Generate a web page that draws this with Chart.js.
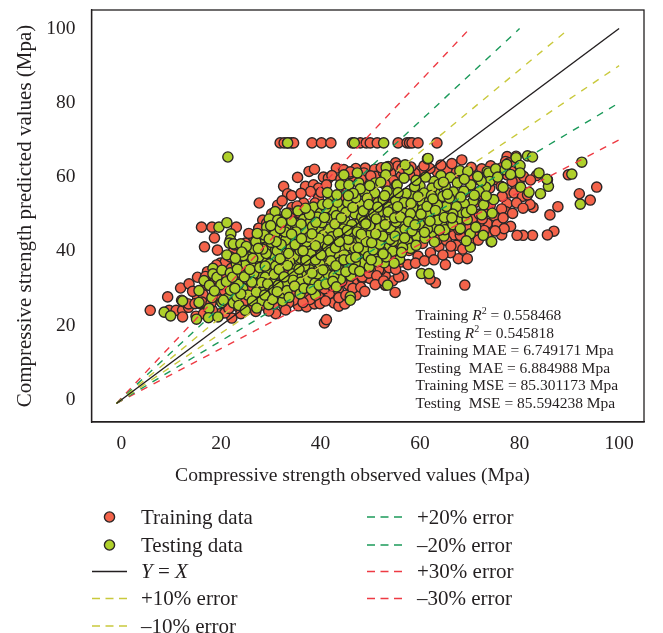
<!DOCTYPE html>
<html>
<head>
<meta charset="utf-8">
<title>Compressive strength</title>
<script src="https://cdn.jsdelivr.net/npm/chart.js@4"></script>
<style>
    html, body { margin: 0; padding: 0; background: #fff; }
    canvas { display: block; }
</style>
</head>
<body>
<canvas id="chart" width="663" height="633"></canvas>
<script>
const trainingPoints = [
    [31.9,69.2],[32.7,69.2],[33.4,69.2],[34.1,69.2],[34.6,69.2],[38.3,69.2],[40.2,69.2],[42.1,69.2],[46.4,69.2],[48,69.2],[49.2,69.2],[50,69.2],[51.4,69.2],[55.6,69.2],[57.4,69.2],[57.9,69.2],[58.4,69.2],[59.6,69.2],[63.4,69.2],
    [68.4,64.6],[77.5,65.5],[77.2,64.2],[77.9,63.8],[78.9,62.9],[79.3,65.6],[83.4,60.4],[89.8,60.6],[95.5,57.3],[92,55.5],[94.2,53.8],[87.7,52],[86.1,49.8],[82.7,51.8],[82.1,52.6],[85.6,59.3],[86.9,45.4],[85.6,44.4],[78.2,46.7],[82.6,44.3],[80.7,44.3],[79.5,44.3],[76.4,44.4],[74.3,42.6],
    [69,30.9],[63.1,31.5],[62,32.5],[56.6,33.4],[54.5,32],[53,30.9],[55,28.9],[52.2,35.1],[53,33.4],[65.1,36.4],[67.7,38],[69.5,38],[66.1,39.6],[62.1,39.6],[63.8,41.3],[67.3,41.6],
    [77.5,52.8],[77.2,50.7],[76.4,51.4],[73.5,47.5],[71.8,47.1],[66.8,44.4],[68.1,44.3],[70.8,44.4],[79.2,58],[77.9,55.7],[78.9,55.7],[80.6,54.8],[81.6,55.2],[76.5,54.8],[79.9,58.8],[78.5,58.8],
    [5.8,24.1],[9.3,27.7],[11.9,30.1],[13.6,31.2],[15.3,33],[16.7,41.2],[19.3,40.3],[18.7,43.6],[16.1,46.5],[18.2,46.5],[23.1,46.5],[27.7,53],
    [40.8,20.7],[41.2,21.6],[31,23.2],[35.6,25.3],[37.2,25],[38.8,25.8],[35.8,27.5],[37.4,28.2],[41.8,28.6],[43.6,29.5],[42.7,26.1],[43.7,25.2],[44.9,25.8],[43.7,27.5],[45.1,28.2],[47.2,28.2],[47.4,31.3],[48.4,32.7],[49.9,32.7],[52.1,35],[53.1,30.9],[33.3,27.7],[34.6,26.8],[26.7,25.9],[28.6,25.5],[32.6,25.5],
    [9.6,24.1],[11,24.1],[12.3,24.1],[13.5,24.9],[12.3,22.3],[12.1,26.8],[12.5,26.4],[13.5,25.8],[15,22.5],[15.3,27.7],[14.8,25.9],[15.8,25.9],[17.3,34.5],[19.5,30.4],[19.9,36.8],[20.9,37.2],[22.5,39.9],[24.6,40.3],[26.2,43.8],[26.6,42.2],[24.9,42.2],[27.6,46.2],[21.9,38.5],[22.2,22],[23.2,37.6],[27.2,35],[17.8,25],[16.5,23.2],[19.9,23.2],[21.2,25],[23.5,25],[25.6,25],[26.6,26.8],
    [32.6,57.5],[33.4,55.5],[34.2,55],[34.3,51.8],[35.4,59.9],[37,57.5],[37.7,61.5],[38.8,62.1],[40.6,60],[41.6,59.7],[43.2,62.4],[38.6,57.9],[39.6,57],[38,56.1],[36.6,53],[39.6,54.3],[32.6,48.9],[31.6,48.3],[28.4,48.4],[27.6,46.2],[26.4,44.1],[33.6,50.3],[34.6,48.5],[33.9,46.2],
    [49,62.4],[50.9,62.1],[48.7,61.1],[51,60.2],[55.1,63.8],[55.5,62.9],[54.1,61.1],[52.7,61.1],[49.4,58.4],[45.3,56.6],[47,52.5],[52.7,38.5],[51.7,35],[50,35],[48.4,33.1],[55.7,33.1],
    [55.3,42],[56.2,44.5],[57.8,40.2],[58.7,43.5],[59.6,38.7],[60.5,42.1],[61.2,44],[62.9,46.7],[63.5,43.1],[64.4,46.1],[65.3,42.9],[66.2,46.8],[67.8,45.8],[68.9,47.3],[69.7,46],[70.6,48.9],[71.9,50],[72.5,48.7],[73.1,50.6],[74.1,52.3],[74.9,49.5],[75.5,47.2],[76.7,49],[72.8,55],[74,57],[75.3,59.3],[76.3,57.5],[77.5,60.6],[78.4,61.5],[75.8,61],[71.4,59.4],[69.8,60.1],[67.2,61.2],[65.4,62],[63.5,61.3],[62,62.3],[60.3,61.9],[59,61],[57.9,60.6],[56.2,60.2],[54.7,59],[53,58],
    [28.3,38.9],[30.6,31.2],[33.2,34.4],[35.1,30],[36.9,33.1],[39.2,30.8],[41.5,32.6],[43.1,35.2],[45.6,31],[47.7,35.9],[49.2,37.6],[50.8,41],[54.2,38.9],[56.1,37.1],[24.4,33],[22.3,31.5],[20.7,29.4],[18.5,27.1],[29.5,43.7],[31.2,45.5],[34.9,43.2],[37.6,47.5],[40.9,50.8],[44.5,54.9],[46.8,59.2],[50.3,55],[53.9,52.6],[57.3,49.5],[60.7,52.2],[63.9,54.1],[66.5,52.7],[69.2,55.9],[71,53.1],[73.6,44.9],
    [14.3,29.2],[16.4,28.4],[17.1,30.9],[16.2,26.3],[18.3,24.1],[20.8,23.4],[22.9,27.6],[24.6,26.4],[18.9,32.6],[20.6,33.7],[22.1,35.4],[24.1,37.9],[25.6,30.2],[26.9,32.7],[27.9,28.3],[29.3,26.9],[30.7,25.8],[31.8,28.4],[33.6,26.1],[34.4,29.1],[36.2,29.7],[37.9,27],[39.6,27.9],[40.8,29.9],[42.4,30.7],[44.3,31.9],[46.5,30],[48.1,30.3],[49.7,34.1],[51.3,33.4],[53.8,35.6],[55.1,35.1],[57.6,36.4],[59.1,36.8],[60.9,37.4],[62.8,37.7],[64.6,39],[66.2,41.4],[68.6,40.6],[70.2,42.2],[71.7,43],[72.9,45.6],
    [28.1,41.8],[29.2,47.6],[30.2,50.1],[31.4,52.4],[32.3,53.6],[33.7,49.3],[35.3,52.2],[36.1,55.6],[37.3,50.7],[38.9,53],[40.1,55.9],[41.2,57.9],[42.3,60.4],[44.1,59.5],[45.9,60.9],[47.1,62.3],[48.2,59.4],[50.1,60.3],[52.2,62.5],[53.6,62.8],[56.4,62.3],[58.2,62.7],[60.8,63],[64.2,63.2],[66.4,63.6],[70.3,62.6],[72.4,62.2],[74.2,63],[76.4,62.5],[80.8,60.2],[82.2,59.2],[79.4,53],[80.7,51.6],[78.6,50.2],[76.9,46.1],[75.1,45.5],
    [21.6,24.6],[24,23.2],[27,23.8],[29.6,23.9],[33,24.2],[36.5,26.2],[39.9,25.9],[41,26.6],[46,27.1],[48.9,29.2],[51,31],[52.7,32],[19.8,26.9],[18,26],[16.9,33.2],[19.1,36.3],[22.8,41.7],[25.6,44.8],[30.3,47.3],[35.8,50.3],[44.7,62],[46,61.4]
]
const testingPoints = [
    [33.4,69.2],[46.8,69.2],[52.7,69.2],[21.4,65.4],[61.5,64.9],[92.5,64],[90.5,60.8],[92.2,52.7],[60.3,34],[61.8,34],[53.5,30.9],[46,27.8],
    [8.6,23.6],[9.9,22.6],[12.3,26.6],[15.1,21.7],[15.6,29.4],[15.6,26.2],[16.6,32.1],[17.7,30.8],[18.2,27.5],[17.6,24.6],[17.5,22.1],[19.4,22.3],[20.2,26.2],[21.3,27.3],[22.5,26.1],[23.2,27.7],[18.4,35.4],[18.4,33.9],[19.2,33],[20.2,34.9],[21.9,34.2],[24,34.2],[21.2,39],[19.6,46.5],[21.2,47.7],[22,44.7],[21.9,43.1],[21.7,42.2],[22.5,42],[24,42],[25.7,38.4],[26.2,36.1],[26.9,40.3],[25.4,33.1],[25.9,32.7],[24.4,30],[25.4,28.2],[27.4,34],[21.9,29.5],[20.5,26.8],
    [30.9,50.7],[29.7,48.7],[31.4,48.4],[29.2,46.5],[35.5,50.9],[38.6,51.9],[36.6,48.6],[42.2,54.1],[41.4,55.8],[44,57.9],[44.7,60.6],[45.7,57.9],[47.7,58.4],[47.4,61.1],[48.9,55.8],[50.9,55.7],[53.2,62.6],[53.1,60.6],[51,58.4],[55.3,57.9],[54.1,55.7],
    [44,51.4],[45.5,53.1],[40,50.3],[42,48.9],[37.3,44.7],[33.6,45.8],[31.6,43],[26.9,40.5],[30.4,40.8],[33.9,41.1],[35.6,44],[39.6,46.2],[43.7,46.8],[40.6,44.4],[42.7,44.7],[46,44.4],[48.7,46.2],[51.7,50.4],[50,48.5],[53.7,51.9],[55.4,50.3],[52.4,45.3],[54.1,45.9],[51,39],[53.2,41.1],[49,41.2],[48.7,37.2],[42.7,41.7],[39.6,40.8],[36.3,42.2],[32.3,36.3],[29.6,35],[27.9,37.2],[35,36.3],[38.6,36.8],[41.3,35.8],[44,33.1],[46,33.6],[43,38.5],[46,39.4],[40,33.1],[36.3,34],[36.3,38.1],[30.9,38.6],[49.4,44],
    [28.6,30.2],[28.1,26.7],[30.9,27.5],[32.4,26.6],[32.4,28.8],[39,28.2],[31.9,33.8],[36.4,33.8],[40,33],[44,32.4],[46.1,33.3],[48.7,36.9],[51.3,39],[53.1,41],[47,36.9],[45.3,38.4],[43.2,39],[41.2,35.7],[38.3,36.7],[34.3,35.8],[29.4,34.8],[28.6,38.1],[26.6,34],[36,38.1],[34.1,41.1],[46,26.8],[37.3,30.7],[26.6,40.8],[35.3,31.3],[29.9,29.5],[27.2,31.3],[30.2,32.7],
    [61.6,65],[55.4,57.9],[57.7,62],[57,63.3],[64.2,60.4],[68,61.7],[69.6,61.5],[66.1,59.9],[62.8,58.8],[61.1,60],[67.5,58.4],[70.2,57.9],[73.5,61.5],[73.8,61.1],[75.2,62.2],[77.1,62],[79.3,65.2],[81.6,65.7],[82.6,65.4],[80.1,63.1],[80.1,61.1],[83.9,61.1],[74,58.8],[73.2,57.3],[80.2,57.3],[81.9,55.9],[84.2,55.5],[74.8,53.9],[72.8,52.5],[70.7,53.6],[68.9,52.8],[67.1,54.8],[65.1,57.5],[63.1,55.7],[60,57.6],[58.4,55],[56.1,52.8],[62.1,51.2],[66.3,50.3],[65.8,48.3],[67.5,48.3],[69.5,48.5],[58.7,48.9],[56.4,47.1],[60.4,45.6],[62.4,45],[57.5,42.9],[55.7,42.6],[64.8,44.1],[70.1,44.7],[72.7,44.3],[74.4,42.6],[70.1,41.1],[69.3,42.8],[58.1,40.8],[55.9,37.8],[54.8,36.8],[54.2,45.8],[54.2,48.5],[54.4,51.2],[64.1,50.3],[60.4,53.4],[62.4,57],[85.8,57.5],[85.5,59.4],
    [23.5,31.1],[24.8,36.2],[27.1,29],[28.9,33],[29.8,36.6],[30.8,44.6],[32.6,39.5],[33.1,31.4],[34.7,38.7],[35.4,33.2],[37.4,40.1],[37.9,35],[38.8,43.1],[39.3,38.4],[40.7,42.3],[40.9,37.5],[41.9,46],[42.6,36.2],[43.5,43],[44.2,41],[44.9,48.4],[45.2,36],[46.4,42.2],[46.9,50.1],[47.5,47.4],[47.9,39.8],[48.4,52.7],[49.6,49.9],[49.8,35.8],[50.4,46.4],[50.9,43],[51.6,53.1],[52.3,48],[52.8,36.9],[53.4,56.2],[53.7,43.6],[55.1,53.7],[55.8,45],[56.6,50.4],[57.2,55.6],[57.9,46.4],[58.6,51.7],[59.4,44],[59.7,49],[60.8,55.7],[61.2,47.6],[61.9,53.6],[62.8,49.4],[63.2,46.5],[63.8,58],[64.6,54.8],[65.3,52.1],[66.7,56],[68.3,50.5],[31,36],[29,41],[33,43],[35,46.6],[37,38],[38,48],[39.6,35],[41,40],[42.5,51],[44.6,46],[47,44],[48,56.8],[50,52],[52,42.5],[54.5,40],[56.5,41],[24,28.5],[22.8,30],[26.2,31.7],[20,31],[18.7,29.3],
    [23.1,36.6],[24.5,38.8],[25.1,41.3],[27.6,38.5],[28.2,43.6],[29.1,39.4],[30.1,42.4],[31.3,40.1],[32.1,41.8],[32.9,45.2],[33.8,37.2],[34.4,33.9],[34.9,47.6],[35.9,40.2],[36.6,45.9],[37.2,42.5],[38.1,39.3],[38.4,46.7],[39.4,49.2],[39.8,43.5],[40.3,47.7],[41.1,51.7],[41.7,38.6],[42.3,43.9],[43.2,49.6],[43.9,37.1],[44.4,44.6],[45.1,50.5],[45.7,41.5],[46.3,47.2],[47.1,54.4],[47.7,42.9],[48.3,49.2],[48.9,40.2],[49.4,54.3],[50.1,44.6],[50.7,50],[51.4,37.2],[51.9,46.3],[52.6,53.9],[53.2,38.5],[53.9,49.3],[54.6,42.7],[55.2,47.9],[55.6,55.8],[56.3,39.7],[56.8,53.1],[57.5,44.9],[58.1,50.1],[58.9,57.4],[59.2,41.6],[59.9,46.8],[60.5,51.2],[61,43.5],[61.7,49.8],[62.3,55],[62.9,42.5],[63.5,52.4],[64.3,47.7],[65,45.8],[65.9,54.3],[66.6,47.2],[67.3,52],[68.1,46.1],[68.8,56.2],[69.3,50.4],[70.4,51.2],[71.2,46.5],[71.9,56.1],[72.4,49.8],[73.3,54.9],[74.5,50.3],
    [28.2,31.6],[29.4,31.2],[30.6,29.6],[31.5,30.8],[33.3,29.4],[34.5,32.2],[36.1,31.7],[37.6,32.5],[38.9,31.4],[39.4,33.9],[41.6,33.6],[42.7,33.4],[43.8,35],[45.1,34.5],[46.7,35.2],[47.9,34.6],[49.6,38.6],[50.2,37.7],[52.2,40.1],[54,43.2],[55,44.1],[57,46],[58.4,45.5],[60,47.2],[61.5,46],[63.6,48.4],[66.6,50],[68.2,54.6],[70.9,55.1],[72.3,58.9],[75.6,60],[76.7,57.2],[78.2,60.7],[77.4,63.4],[71.6,60.2],[68.9,59.4],[64.7,58.6],[59.2,59.1],[56.8,59.7],[52.1,58.6],[49.9,57.7],[46.6,55.6],[43.4,53.2],[40.4,52.6],[37.8,49.9],[34.2,48.1],[31.9,46.1],[28.7,44.4],[27,42.6],[24.2,39.8],
    [36.8,36],[37.1,37.6],[39,41.5],[39.9,36.6],[41.4,41.1],[42,39.7],[43,40.9],[43.6,44.9],[44.8,39],[45.6,43.2],[46.2,45.4],[46.9,40.8],[47.4,45.2],[48.1,43.3],[48.7,48],[49.2,42.6],[49.9,46.9],[50.6,40.4],[51.2,48.7],[51.9,41.9],[52.5,44.1],[53,47.2],[53.6,50.6],[54.9,49],[55.5,52],[56.1,49.2],[56.9,43.6],[57.7,48],[58.2,52.9],[59,47.1],[59.6,54.7],[60.2,50],[60.9,45.1],[61.4,52.1],[62,48.1],[62.6,54.1],[63.1,51],[63.9,45.7],[64.9,49.1],[65.5,55.4],[66.4,49],
    [23.6,25.4],[24.9,24.1],[26.3,26.6],[27.2,24.7],[28.8,28.2],[29.6,25.6],[30.4,27],[31.3,29.1],[33.7,27.6],[34.8,30.6],[35.9,28.5],[36.7,30],[38.2,29.7],[39.7,30.9],[41.1,31.2],[42.5,31.9],[43.2,30.4],[21.1,31.8],[22.3,33],[23.3,35.2],[22.9,38.1],[24.7,33.1],[25.8,35.1],[26.4,38.1],[27.8,35.6],[28.4,40.6],[28.9,36],[30.7,33.8],[31.7,35.1],[31.9,38],[33.4,36.2],[32.7,33.1],[33.6,39.4],[34.9,41.8],[35.7,35.2],[36.5,40.1],[37.7,43.8],[38.3,34.1],[39,37.7],[40.1,39],[40.5,35],[41.6,43],[42.1,37.4],[43.1,36.1],[43.8,42.6],[44.7,37.7],[45.4,45.6],[46.1,37.9],[47.1,38.4],[47.6,41],[48.2,44.6],[49.1,47.4],[50.3,42.3],[51.1,44.7],[52.6,39.3],[27.3,44.8],[30,46.9],[32.2,47.8],[33.2,50.2],[36.1,47.3],[37,51.6],[39.1,47.8],[40.8,49.1],[41.5,52.8],[43.3,55.2],[45.6,55],[46.5,51.8],[48.6,50.9],[49.7,52.6],[51.5,51.9],[52.9,55],[42.9,47.4],[44.2,49],[38.3,44.7],[35.1,45.2],[36.2,43.4],[34.2,44.6],[31.1,42.6],[29.7,43.3],[27.5,40.8]
]

// Rectas de referencia (extremos)
const lineYX = [[-1,-1],[100,100]]
const linePlus10 = [[-1,-1],[90,100]]
const lineMinus10 = [[-1,-1],[100,90]]
const linePlus20 = [[-1,-1],[80,100]]
const lineMinus20 = [[-1,-1],[100,80]]
const linePlus30 = [[-1,-1],[70,100]]
const lineMinus30 = [[-1,-1],[100,70]]

const tickValues = [0, 20, 40, 60, 80, 100]
const xTitle = 'Compressive strength observed values (Mpa)'
const yTitle = 'Compressive strength predicted values (Mpa)'

const SERIF = '"Liberation Serif", serif'
const TEXT = '#231f20'
const COL_TRAIN = '#f4634a'
const COL_TEST = '#afd02b'
const COL_EDGE = '#2b2626'
const COL_YELLOW = '#c9c93c'
const COL_GREEN = '#1b9a5a'
const COL_RED = '#ee3a43'
const MARK_R = 5.1

const toXY = arr => arr.map(p => ({ x: p[0], y: p[1] }))

function lineSet(label, pts, color, dashed) {
    return { label, data: toXY(pts), showLine: true, borderColor: color, borderWidth: 1.4, borderDash: dashed ? [7, 7] : [], pointRadius: 0, fill: false, order: 1 }
}
function pointSet(label, pts, color, order) {
    return { label, data: toXY(pts), showLine: false, backgroundColor: color, borderColor: COL_EDGE, borderWidth: 1.4, pointRadius: MARK_R, pointHoverRadius: MARK_R, order }
}

// Texto con tramos (cursiva, superindice)
function drawRuns(ctx, x, y, size, runs) {
    ctx.textAlign = 'left'
    ctx.textBaseline = 'alphabetic'
    ctx.fillStyle = TEXT
    runs.forEach(r => {
        const s = r.sup ? size * 0.65 : size
        ctx.font = (r.it ? 'italic ' : '') + s + 'px ' + SERIF
        ctx.fillText(r.t, x, r.sup ? y - size * 0.38 : y)
        x += ctx.measureText(r.t).width
    })
}

const notes = [
    { y: 320, runs: [{ t: 'Training ' }, { t: 'R', it: true }, { t: '2', sup: true }, { t: ' = 0.558468' }] },
    { y: 338, runs: [{ t: 'Testing ' }, { t: 'R', it: true }, { t: '2', sup: true }, { t: ' = 0.545818' }] },
    { y: 355, runs: [{ t: 'Training MAE = 6.749171 Mpa' }] },
    { y: 373, runs: [{ t: 'Testing  MAE = 6.884988 Mpa' }] },
    { y: 390, runs: [{ t: 'Training MSE = 85.301173 Mpa' }] },
    { y: 408, runs: [{ t: 'Testing  MSE = 85.594238 Mpa' }] }
]

const legendRows = [
    { col: 0, y: 517, mark: COL_TRAIN, runs: [{ t: 'Training data' }] },
    { col: 0, y: 545, mark: COL_TEST, runs: [{ t: 'Testing data' }] },
    { col: 0, y: 571.5, line: TEXT, runs: [{ t: 'Y', it: true }, { t: ' = ' }, { t: 'X', it: true }] },
    { col: 0, y: 598.5, line: COL_YELLOW, dash: true, runs: [{ t: '+10% error' }] },
    { col: 0, y: 626, line: COL_YELLOW, dash: true, runs: [{ t: '–10% error' }] },
    { col: 1, y: 517, line: COL_GREEN, dash: true, runs: [{ t: '+20% error' }] },
    { col: 1, y: 545, line: COL_GREEN, dash: true, runs: [{ t: '–20% error' }] },
    { col: 1, y: 571.5, line: COL_RED, dash: true, runs: [{ t: '+30% error' }] },
    { col: 1, y: 598.5, line: COL_RED, dash: true, runs: [{ t: '–30% error' }] }
]
const legendCols = [{ x1: 92, x2: 127, text: 141 }, { x1: 367, x2: 403, text: 417 }]

const figurePlugin = {
    id: 'figure',
    afterDraw(chart) {
        const ctx = chart.ctx
        const a = chart.chartArea
        ctx.save()
        // Marco
        ctx.strokeStyle = TEXT
        ctx.lineWidth = 1.3
        ctx.strokeRect(a.left, a.top, a.right - a.left, a.bottom - a.top)
        // Titulo del eje x (va algo a la izquierda del centro del area)
        ctx.font = '19.6px ' + SERIF
        ctx.fillStyle = TEXT
        ctx.textAlign = 'center'
        ctx.textBaseline = 'middle'
        ctx.fillText(xTitle, 352.5, 476)
        // Anotaciones
        notes.forEach(n => drawRuns(ctx, 415.5, n.y, 15.5, n.runs))
        // Leyenda
        legendRows.forEach(r => {
            const c = legendCols[r.col]
            if (r.line) {
                ctx.beginPath()
                ctx.setLineDash(r.dash ? [8, 5.5] : [])
                ctx.strokeStyle = r.line
                ctx.lineWidth = 1.4
                ctx.moveTo(c.x1, r.y)
                ctx.lineTo(c.x2, r.y)
                ctx.stroke()
                ctx.setLineDash([])
            } else {
                ctx.beginPath()
                ctx.arc((c.x1 + c.x2) / 2, r.y, MARK_R, 0, Math.PI * 2)
                ctx.fillStyle = r.mark
                ctx.fill()
                ctx.strokeStyle = COL_EDGE
                ctx.lineWidth = 1.4
                ctx.stroke()
            }
            drawRuns(ctx, c.text, r.y + 6.5, 21, r.runs)
        })
        ctx.restore()
    }
}

function axis(fit, tickPad) {
    return {
        type: 'linear',
        min: -6,
        max: 105,
        afterBuildTicks: s => { s.ticks = tickValues.map(v => ({ value: v })) },
        afterFit: fit,
        grid: { display: false, drawTicks: true, tickLength: 6, tickColor: TEXT, tickWidth: 1.2 },
        border: { display: true, color: TEXT, width: 1.3 },
        ticks: { color: TEXT, font: { family: SERIF, size: 19.5 }, padding: tickPad, maxRotation: 0 }
    }
}

// Tamanos fijos para que el area quede como en la figura
const xAxis = axis(s => { s.height = 63; s.paddingLeft = 0; s.paddingRight = 0 }, 4)
const yAxis = axis(s => { s.width = 78.5; s.paddingTop = 0; s.paddingBottom = 0 }, 10)
yAxis.title = { display: true, text: yTitle, color: TEXT, font: { family: SERIF, size: 21 }, padding: { top: 0, bottom: 0 } }

new Chart(document.getElementById('chart'), {
    type: 'scatter',
    data: {
        datasets: [
            lineSet('Y = X', lineYX, TEXT, false),
            lineSet('+10% error', linePlus10, COL_YELLOW, true),
            lineSet('–10% error', lineMinus10, COL_YELLOW, true),
            lineSet('+20% error', linePlus20, COL_GREEN, true),
            lineSet('–20% error', lineMinus20, COL_GREEN, true),
            lineSet('+30% error', linePlus30, COL_RED, true),
            lineSet('–30% error', lineMinus30, COL_RED, true),
            pointSet('Testing data', testingPoints, COL_TEST, 2),
            pointSet('Training data', trainingPoints, COL_TRAIN, 3)
        ]
    },
    options: {
        responsive: false,
        animation: false,
        layout: { padding: { left: 13, right: 19, top: 10, bottom: 148 } },
        plugins: { legend: { display: false }, tooltip: { enabled: false } },
        scales: { x: xAxis, y: yAxis }
    },
    plugins: [figurePlugin]
})
</script>
</body>
</html>
